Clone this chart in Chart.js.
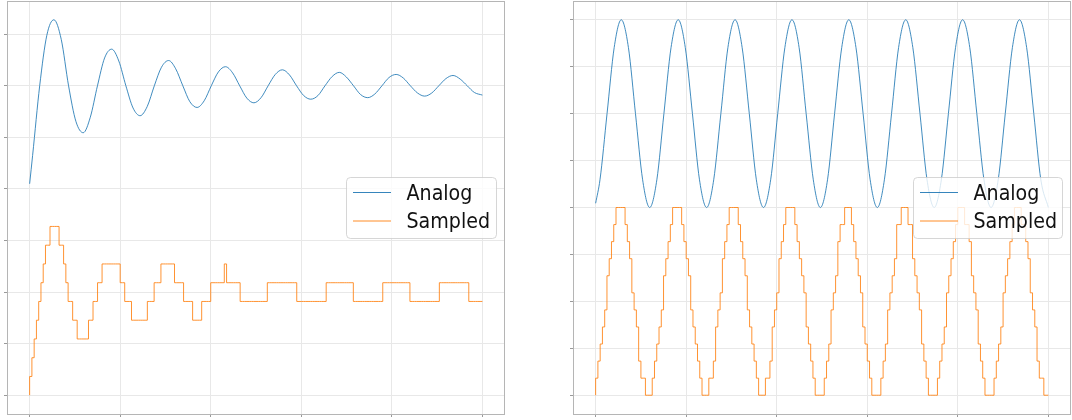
<!DOCTYPE html>
<html>
<head>
<meta charset="utf-8">
<script src="https://cdn.jsdelivr.net/npm/chart.js@4.4.0/dist/chart.umd.min.js"></script>
<style>
  html, body { margin: 0; padding: 0; background: #fff; }
  #wrap { position: relative; width: 1072px; height: 420px; }
  canvas { position: absolute; top: 0; }
</style>
</head>
<body>
<div id="wrap">
  <canvas id="leftChart" width="536" height="420" style="left:0"></canvas>
  <canvas id="rightChart" width="536" height="420" style="left:536px"></canvas>
</div>
<script>
// ---- data ----
const SERIES_LABELS = ['Analog', 'Sampled'];
const X_TICKS = [0, 1, 2, 3, 4, 5];
const LEFT_Y_TICKS = [0, 1, 2, 3, 4, 5, 6, 7];
const RIGHT_Y_TICKS = [0, 1, 2, 3, 4, 5, 6, 7, 8];
const SAMPLE_PERIOD = 0.025;   // s between samples
const LSB = 4 / 11;            // one quantisation step

// left: damped step response
const leftAnalogT = [0, 0.033, 0.111, 0.190, 0.268, 0.349, 0.430, 0.511, 0.592, 0.670, 0.749, 0.828, 0.906,
  0.985, 1.063, 1.142, 1.220, 1.299, 1.377, 1.456, 1.535, 1.613, 1.692, 1.770, 1.849, 1.928, 2.006, 2.085,
  2.163, 2.242, 2.320, 2.399, 2.477, 2.556, 2.634, 2.713, 2.791, 2.870, 2.948, 3.027, 3.105, 3.184, 3.262,
  3.341, 3.420, 3.498, 3.577, 3.655, 3.734, 3.812, 3.891, 3.969, 4.048, 4.127, 4.205, 4.284, 4.362, 4.441,
  4.519, 4.598, 4.676, 4.755, 4.833, 4.912, 5.0];
const leftAnalogV = [4.10, 4.65, 6.0, 6.98, 7.28, 6.9, 6.0, 5.31, 5.09, 5.39, 6.0, 6.54, 6.71,
  6.48, 6.0, 5.57, 5.42, 5.60, 6.0, 6.36, 6.49, 6.33, 6.0, 5.69, 5.58, 5.71, 6.0, 6.27,
  6.37, 6.25, 6.0, 5.76, 5.67, 5.77, 6.0, 6.22, 6.31, 6.21, 6.0, 5.81, 5.74, 5.81, 6.0,
  6.18, 6.26, 6.17, 6.0, 5.83, 5.77, 5.84, 6.0, 6.16, 6.22, 6.15, 6.0, 5.86, 5.80, 5.86,
  6.0, 6.14, 6.20, 6.13, 6.0, 5.87, 5.82];
const leftCodes = [
  0, 1, 2, 3, 4, 5, 6, 7, 8, 8,   9, 9, 9, 9, 8, 8, 7, 6, 5, 5,
  4, 4, 3, 3, 3, 3, 3, 4, 4, 5,   5, 6, 6, 7, 7, 7, 7, 7, 7, 7,
  7, 6, 6, 5, 5, 5, 4, 4, 4, 4,   4, 4, 4, 5, 5, 5, 6, 6, 6, 7,
  7, 7, 7, 7, 7, 6, 6, 6, 6, 5,   5, 5, 5, 4, 4, 4, 4, 5, 5, 5,
  5, 6, 6, 6, 6, 6, 6, 7, 6, 6,   6, 6, 6, 6, 5, 5, 5, 5, 5, 5,
  5, 5, 5, 5, 5, 5, 6, 6, 6, 6,   6, 6, 6, 6, 6, 6, 6, 6, 6, 5,
  5, 5, 5, 5, 5, 5, 5, 5, 5, 5,   5, 5, 6, 6, 6, 6, 6, 6, 6, 6,
  6, 6, 6, 6, 5, 5, 5, 5, 5, 5,   5, 5, 5, 5, 5, 5, 5, 6, 6, 6,
  6, 6, 6, 6, 6, 6, 6, 6, 6, 5,   5, 5, 5, 5, 5, 5, 5, 5, 5, 5,
  5, 5, 6, 6, 6, 6, 6, 6, 6, 6,   6, 6, 6, 6, 6, 5, 5, 5, 5, 5,
  5];

// right: steady sine
const rightAnalogT = [0, 0.048, 0.126, 0.205, 0.283, 0.362, 0.440, 0.519, 0.597, 0.676, 0.754, 0.833, 0.912,
  0.990, 1.069, 1.147, 1.226, 1.304, 1.383, 1.461, 1.540, 1.618, 1.697, 1.775, 1.854, 1.933, 2.011, 2.090,
  2.168, 2.247, 2.325, 2.404, 2.482, 2.561, 2.639, 2.718, 2.796, 2.875, 2.954, 3.032, 3.111, 3.189, 3.268,
  3.346, 3.425, 3.503, 3.582, 3.660, 3.739, 3.818, 3.896, 3.975, 4.053, 4.132, 4.210, 4.289, 4.367, 4.446,
  4.524, 4.603, 4.681, 4.760, 4.839, 4.917, 5.0];
const rightAnalogV = [4.09,
  4.59, 6.0, 7.41, 8.0, 7.41, 6.0, 4.59, 4.0,
  4.59, 6.0, 7.41, 8.0, 7.41, 6.0, 4.59, 4.0,
  4.59, 6.0, 7.41, 8.0, 7.41, 6.0, 4.59, 4.0,
  4.59, 6.0, 7.41, 8.0, 7.41, 6.0, 4.59, 4.0,
  4.59, 6.0, 7.41, 8.0, 7.41, 6.0, 4.59, 4.0,
  4.59, 6.0, 7.41, 8.0, 7.41, 6.0, 4.59, 4.0,
  4.59, 6.0, 7.41, 8.0, 7.41, 6.0, 4.59, 4.0,
  4.59, 6.0, 7.41, 8.0, 7.41, 6.0, 4.59, 4.0];
const rightCodes = [
  0, 1, 2, 3, 4, 5, 7, 8, 9, 10,   11, 11, 11, 11, 10, 9, 8, 6, 5, 4,
  2, 1, 1, 0, 0, 0, 1, 2, 3, 4,    5, 7, 8, 9, 10, 11, 11, 11, 11, 10,
  9, 8, 7, 5, 4, 3, 2, 1, 0, 0,    0, 1, 1, 2, 4, 5, 6, 8, 9, 10,
  11, 11, 11, 11, 10, 9, 8, 7, 5, 4,   3, 2, 1, 0, 0, 0, 1, 1, 2, 4,
  5, 6, 8, 9, 10, 11, 11, 11, 11, 10,  9, 8, 7, 6, 4, 3, 2, 1, 0, 0,
  0, 0, 1, 2, 3, 5, 6, 7, 9, 10,   10, 11, 11, 11, 10, 9, 8, 7, 6, 4,
  3, 2, 1, 0, 0, 0, 0, 1, 2, 3,    5, 6, 7, 8, 10, 10, 11, 11, 11, 10,
  10, 8, 7, 6, 5, 3, 2, 1, 0, 0,   0, 0, 1, 2, 3, 4, 6, 7, 8, 9,
  10, 11, 11, 11, 10, 10, 9, 7, 6, 5,  3, 2, 1, 0, 0, 0, 0, 1, 2, 3,
  4, 6, 7, 8, 9, 10, 11, 11, 11, 10,   10, 9, 8, 6, 5, 4, 2, 1, 1, 0,
  0];

// ---- drawing ----
const BLUE = '#1f77b4', ORANGE = '#ff7f0e';

// plot frame + matplotlib-like legend box
const frameLegend = {
  id: 'frameLegend',
  afterDraw(chart, args, opts) {
    const ctx = chart.ctx, a = chart.chartArea;
    ctx.save();
    ctx.strokeStyle = '#b5b5b5';
    ctx.lineWidth = 1;
    ctx.strokeRect(Math.round(a.left) + 0.5, Math.round(a.top) + 0.5,
      Math.round(a.right - a.left) - 1, Math.round(a.bottom - a.top));

    const {x, y, w, h} = opts;
    ctx.beginPath();
    ctx.roundRect(x + 0.5, y + 0.5, w, h, 4);
    ctx.fillStyle = 'rgba(255,255,255,0.8)';
    ctx.fill();
    ctx.strokeStyle = 'rgba(204,204,204,0.8)';
    ctx.stroke();

    chart.data.datasets.forEach((ds, i) => {
      const rowY = y + 15 + i * 28.5;
      ctx.beginPath();
      ctx.strokeStyle = ds.borderColor;
      ctx.lineWidth = 0.9;
      ctx.moveTo(x + 7, rowY + 0.5);
      ctx.lineTo(x + 45, rowY + 0.5);
      ctx.stroke();
      ctx.save();
      ctx.translate(x + 60.5, rowY + 7.5);
      ctx.scale(0.93, 1);
      ctx.fillStyle = '#111';
      ctx.font = '20.5px "DejaVu Sans"';
      ctx.textBaseline = 'alphabetic';
      ctx.fillText(ds.label, 0, 0);
      ctx.restore();
    });
    ctx.restore();
  }
};

function makeChart(id, analogT, analogV, codes, yTicks, padding, legendAt) {
  const analog = analogT.map((t, i) => ({x: t, y: analogV[i]}));
  const sampled = codes.map((c, n) => ({x: n * SAMPLE_PERIOD, y: c * LSB}));
  const ys = analog.concat(sampled).map(p => p.y);
  const lo = Math.min(...ys), hi = Math.max(...ys), m = (hi - lo) * 0.05;

  return new Chart(document.getElementById(id).getContext('2d'), {
    type: 'line',
    data: {
      datasets: [
        {label: SERIES_LABELS[0], data: analog, borderColor: BLUE, borderWidth: 0.85,
         pointRadius: 0, cubicInterpolationMode: 'monotone', fill: false},
        {label: SERIES_LABELS[1], data: sampled, borderColor: ORANGE, borderWidth: 0.85,
         pointRadius: 0, stepped: 'after', fill: false}
      ]
    },
    options: {
      responsive: false,
      animation: false,
      layout: {padding: padding},
      plugins: {legend: {display: false}, tooltip: {enabled: false}, frameLegend: legendAt},
      scales: {
        x: {
          type: 'linear', min: -0.25, max: 5.25,
          afterBuildTicks: s => { s.ticks = X_TICKS.map(v => ({value: v})); },
          ticks: {display: false},
          grid: {color: '#e8e8e8', tickColor: '#9a9a9a', tickLength: 3},
          border: {display: false}
        },
        y: {
          type: 'linear', min: lo - m, max: hi + m,
          afterBuildTicks: s => { s.ticks = yTicks.map(v => ({value: v})); },
          ticks: {display: false},
          grid: {color: '#e8e8e8', tickColor: '#9a9a9a', tickLength: 3},
          border: {display: false}
        }
      }
    },
    plugins: [frameLegend]
  });
}

makeChart('leftChart', leftAnalogT, leftAnalogV, leftCodes, LEFT_Y_TICKS,
  {left: 4, top: 1, right: 31, bottom: 3}, {x: 346, y: 177, w: 150, h: 61});
makeChart('rightChart', rightAnalogT, rightAnalogV, rightCodes, RIGHT_Y_TICKS,
  {left: 34, top: 1, right: 1, bottom: 3}, {x: 377, y: 177, w: 149, h: 61});
</script>
</body>
</html>
